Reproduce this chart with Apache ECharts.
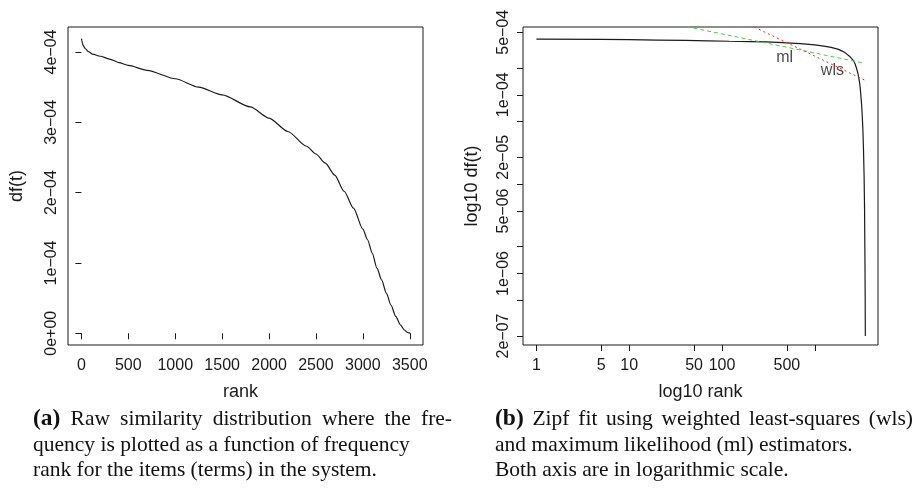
<!DOCTYPE html>
<html><head><meta charset="utf-8">
<script src="https://cdn.jsdelivr.net/npm/echarts@6/dist/echarts.min.js"></script>
<style>html,body{margin:0;padding:0;background:#fff}#c{width:918px;height:488px}</style>
</head><body><div id="c"></div>
<script>
// ---- data ----
const ranks = [1, 5, 10, 20, 40, 70, 120, 200, 300, 400, 500, 700, 1000, 1250, 1500, 1800, 2000, 2200, 2400, 2500, 2600, 2700, 2800, 2900, 3000, 3050, 3100, 3150, 3200, 3250, 3300, 3350, 3400, 3440, 3470, 3490, 3505];
const dfValues = [4.19e-4, 4.16e-4, 4.13e-4, 4.09e-4, 4.05e-4, 4.01e-4, 3.97e-4, 3.94e-4, 3.90e-4, 3.85e-4, 3.81e-4, 3.74e-4, 3.62e-4, 3.50e-4, 3.39e-4, 3.22e-4, 3.06e-4, 2.87e-4, 2.66e-4, 2.55e-4, 2.42e-4, 2.25e-4, 2.02e-4, 1.78e-4, 1.48e-4, 1.33e-4, 1.14e-4, 0.925e-4, 0.76e-4, 0.57e-4, 0.40e-4, 0.24e-4, 0.12e-4, 5e-6, 1.5e-6, 6e-7, 2e-7];

const leftXTicks = [0, 500, 1000, 1500, 2000, 2500, 3000, 3500];
const leftXTickLabels = ['0', '500', '1000', '1500', '2000', '2500', '3000', '3500'];
const leftYTicks = [0, 1e-4, 2e-4, 3e-4, 4e-4];
const leftYTickLabels = ['0e+00', '1e\u221204', '2e\u221204', '3e\u221204', '4e\u221204'];

const rightXTicks = [1, 5, 10, 50, 100, 500, 1000];
const rightXTickLabels = ['1', '5', '10', '50', '100', '500', ''];
const rightYTicks = [5e-4, 2e-4, 1e-4, 5e-5, 2e-5, 1e-5, 5e-6, 2e-6, 1e-6, 5e-7, 2e-7];
const rightYTickLabels = ['5e\u221204', '', '1e\u221204', '', '2e\u221205', '', '5e\u221206', '', '1e\u221206', '', '2e\u221207'];

// Zipf fits (rank, df) end points
const mlFit = [[35, 6.0e-4], [3388, 2.26e-4]];
const wlsFit = [[200, 6.04e-4], [3535, 1.44e-4]];
const fitLabelNames = ['ml', 'wls'];
const fitLabelPos = [[474, 2.58e-4], [1549, 1.87e-4]];

const captionALabel = '(a)';
const captionA = ['Raw similarity distribution where the fre-', 'quency is plotted as a function of frequency', 'rank for the items (terms) in the system.'];
const captionBLabel = '(b)';
const captionB = ['Zipf fit using weighted least-squares (wls)', 'and maximum likelihood (ml) estimators.', 'Both axis are in logarithmic scale.'];

// ---- helpers ----
function lookup(ticks, labels) {
  return function (v) {
    for (let i = 0; i < ticks.length; i++) {
      if (Math.abs(v - ticks[i]) <= Math.abs(ticks[i]) * 1e-6 + 1e-15) return labels[i];
    }
    return '';
  };
}
const curve = ranks.map((r, i) => [r, dfValues[i]]);
const SANS = '"Liberation Sans", Arial, sans-serif';
const SERIF = '"Liberation Serif", "Times New Roman", serif';
const INK = '#1a1a1a';
const TICK_FS = 16, NAME_FS = 18, CAP_FS = 21.5, CAP_B_FS = 23.5;
const tickStyle = { show: true, inside: false, length: 6, lineStyle: { color: INK, width: 1 } };
const labelBase = { color: INK, fontFamily: SANS, fontSize: TICK_FS };
const nameStyle = { color: INK, fontFamily: SANS, fontSize: NAME_FS };

// measure text to emulate the justified first caption line
const mctx = document.createElement('canvas').getContext('2d');
function measure(t, font) { mctx.font = font; return mctx.measureText(t).width; }

function captionGraphics(label, lines, x, firstLineWidth) {
  const ys = [419, 445, 470];
  const baseFont = CAP_FS + 'px ' + SERIF;
  const boldFont = 'bold ' + CAP_B_FS + 'px ' + SERIF;
  const words = lines[0].split(' ');
  const natural = measure(label, boldFont) + measure(' ' + lines[0], baseFont);
  const nSpaces = words.length;
  const spaceW = measure(' ', baseFont) + (firstLineWidth - natural) / nSpaces;
  const spaceFs = spaceW / measure(' ', '100px ' + SERIF) * 100;
  const first = '{b|' + label + '}{s| }' + words.join('{s| }');
  const out = [{
    type: 'text', x: x, y: ys[0],
    style: {
      text: first, fill: '#111', font: baseFont, verticalAlign: 'middle', align: 'left',
      rich: {
        b: { fontWeight: 'bold', fontSize: CAP_B_FS, fontFamily: SERIF, fill: '#111', lineHeight: 26 },
        s: { fontSize: spaceFs, fontFamily: SERIF, fill: '#111', lineHeight: 26 }
      }
    }
  }];
  for (let i = 1; i < lines.length; i++) {
    out.push({
      type: 'text', x: x, y: ys[i],
      style: { text: lines[i], fill: '#111', font: baseFont, verticalAlign: 'middle', align: 'left' }
    });
  }
  return out;
}

const chart = echarts.init(document.getElementById('c'), null, { renderer: 'canvas' });

const option = {
  backgroundColor: '#fff',
  animation: false,
  grid: [
    { left: 68, top: 27, width: 355, height: 318, show: true, borderColor: INK, borderWidth: 1, backgroundColor: 'transparent' },
    { left: 523, top: 27, width: 355, height: 318, show: true, borderColor: INK, borderWidth: 1, backgroundColor: 'transparent' }
  ],
  xAxis: [
    {
      type: 'value', gridIndex: 0, min: -143, max: 3641,
      axisLine: { show: false }, splitLine: { show: false },
      axisTick: Object.assign({ customValues: leftXTicks }, tickStyle),
      axisLabel: Object.assign({
        customValues: leftXTicks, margin: 13,
        formatter: lookup(leftXTicks, leftXTickLabels)
      }, labelBase),
      name: 'rank', nameLocation: 'middle', nameGap: 38,
      nameTextStyle: Object.assign({ padding: [0, 10, 0, 0] }, nameStyle)
    },
    {
      type: 'log', gridIndex: 1, min: 0.717, max: 4799, logBase: 10,
      axisLine: { show: false }, splitLine: { show: false }, minorTick: { show: false },
      axisTick: Object.assign({ customValues: rightXTicks }, tickStyle),
      axisLabel: Object.assign({
        customValues: rightXTicks.filter((v, i) => rightXTickLabels[i] !== ''),
        formatter: lookup(rightXTicks, rightXTickLabels), margin: 13
      }, labelBase),
      name: 'log10 rank', nameLocation: 'middle', nameGap: 38, nameTextStyle: nameStyle
    }
  ],
  yAxis: [
    {
      type: 'value', gridIndex: 0, min: -1.67e-5, max: 4.356e-4,
      axisLine: { show: false }, splitLine: { show: false },
      axisTick: Object.assign({ customValues: leftYTicks }, tickStyle),
      axisLabel: Object.assign({
        customValues: leftYTicks, rotate: 90, margin: 8,
        formatter: lookup(leftYTicks, leftYTickLabels)
      }, labelBase),
      name: 'df(t)', nameLocation: 'middle', nameGap: 42, nameTextStyle: nameStyle
    },
    {
      type: 'log', gridIndex: 1, min: 1.585e-7, max: 5.73e-4, logBase: 10,
      axisLine: { show: false }, splitLine: { show: false }, minorTick: { show: false },
      axisTick: Object.assign({ customValues: rightYTicks }, tickStyle),
      axisLabel: Object.assign({
        customValues: rightYTicks.filter((v, i) => rightYTickLabels[i] !== ''),
        rotate: 90, margin: 11,
        formatter: lookup(rightYTicks, rightYTickLabels)
      }, labelBase),
      name: 'log10 df(t)', nameLocation: 'middle', nameGap: 42, nameTextStyle: nameStyle
    }
  ],
  series: [
    {
      type: 'line', xAxisIndex: 0, yAxisIndex: 0, data: curve, showSymbol: false,
      smooth: 0.25, smoothMonotone: 'x', lineStyle: { color: INK, width: 1.2 }, silent: true
    },
    {
      type: 'line', xAxisIndex: 1, yAxisIndex: 1, data: curve, showSymbol: false,
      lineStyle: { color: INK, width: 1.2 }, silent: true
    },
    {
      type: 'line', xAxisIndex: 1, yAxisIndex: 1, data: mlFit, showSymbol: false, clip: true,
      lineStyle: { color: '#4ccc4c', width: 1, type: [4, 3] }, silent: true
    },
    {
      type: 'line', xAxisIndex: 1, yAxisIndex: 1, data: wlsFit, showSymbol: false, clip: true,
      lineStyle: { color: '#ee2a2a', width: 1, type: [2, 3] }, silent: true
    },
    {
      type: 'scatter', xAxisIndex: 1, yAxisIndex: 1, symbolSize: 0, silent: true,
      data: fitLabelNames.map((n, i) => ({ name: n, value: fitLabelPos[i] })),
      label: { show: true, position: 'inside', formatter: '{b}', color: INK, fontFamily: SANS, fontSize: TICK_FS }
    }
  ],
  graphic: [].concat(
    captionGraphics(captionALabel, captionA, 33, 419),
    captionGraphics(captionBLabel, captionB, 495, 418)
  )
};
chart.setOption(option);
</script>
</body></html>
